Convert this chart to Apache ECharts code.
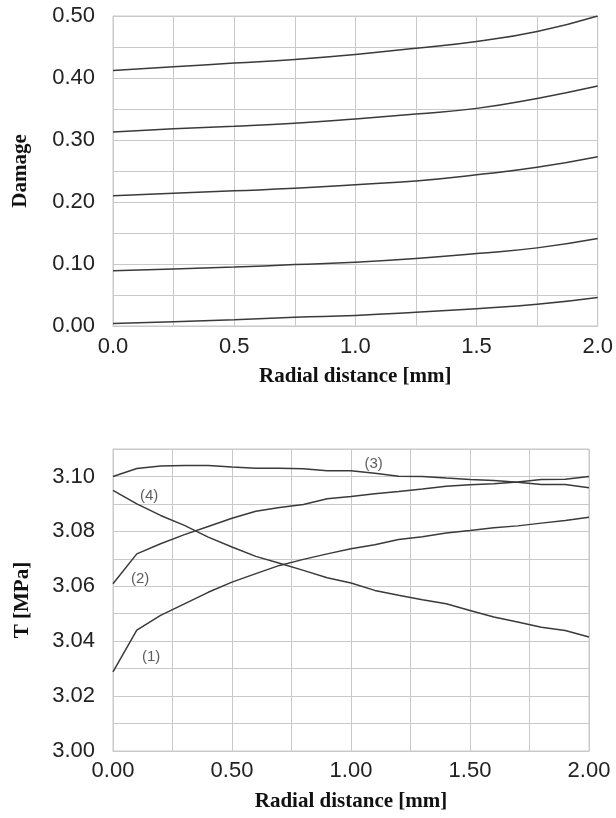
<!DOCTYPE html>
<html>
<head>
<meta charset="utf-8" />
<title>Damage and T vs radial distance</title>
<script src="https://cdn.jsdelivr.net/npm/echarts@6/dist/echarts.min.js"></script>
<style>
  html, body { margin: 0; padding: 0; background: #fff; }
  #main { width: 616px; height: 818px; }
</style>
</head>
<body>
<div id="main"></div>
<script>
// top chart: damage curves
var damageX = [0, 0.25, 0.5, 0.75, 1.0, 1.25, 1.5, 1.75, 2.0];
var damage1 = [0.412, 0.418, 0.424, 0.430, 0.438, 0.448, 0.459, 0.475, 0.500];
var damage2 = [0.313, 0.318, 0.322, 0.327, 0.334, 0.342, 0.351, 0.367, 0.387];
var damage3 = [0.210, 0.214, 0.218, 0.222, 0.228, 0.234, 0.244, 0.256, 0.273];
var damage4 = [0.089, 0.092, 0.095, 0.099, 0.103, 0.109, 0.117, 0.126, 0.141];
var damage5 = [0.004, 0.007, 0.010, 0.014, 0.017, 0.022, 0.028, 0.035, 0.046];

// bottom chart: T curves (1)..(4)
var tX = [0, 0.1, 0.2, 0.3, 0.4, 0.5, 0.6, 0.7, 0.8, 0.9, 1.0, 1.1, 1.2, 1.3, 1.4, 1.5, 1.6, 1.7, 1.8, 1.9, 2.0];
var t1 = [3.0288, 3.0440, 3.0494, 3.0536, 3.0578, 3.0615, 3.0646, 3.0676, 3.0698, 3.0718, 3.0737,
          3.0751, 3.0770, 3.0780, 3.0794, 3.0803, 3.0813, 3.0820, 3.0830, 3.0840, 3.0851];
var t2 = [3.0609, 3.0718, 3.0755, 3.0788, 3.0818, 3.0848, 3.0873, 3.0887, 3.0898, 3.0919, 3.0927,
          3.0937, 3.0945, 3.0954, 3.0964, 3.0970, 3.0973, 3.0980, 3.0989, 3.0990, 3.1000];
var t3 = [3.1000, 3.1029, 3.1038, 3.1040, 3.1040, 3.1034, 3.1030, 3.1030, 3.1028, 3.1021, 3.1021,
          3.1012, 3.1001, 3.1000, 3.0994, 3.0989, 3.0985, 3.0979, 3.0971, 3.0971, 3.0959];
var t4 = [3.0949, 3.0900, 3.0858, 3.0822, 3.0779, 3.0743, 3.0709, 3.0684, 3.0658, 3.0631, 3.0612,
          3.0585, 3.0567, 3.0551, 3.0536, 3.0512, 3.0488, 3.0470, 3.0451, 3.0439, 3.0415];
var curveNames = ['(1)', '(2)', '(3)', '(4)'];
var noteX = [0.16, 0.114, 1.095, 0.152];
var noteY = [3.0342, 3.0627, 3.1046, 3.0931];

function pairs(xs, ys) {
  var out = [];
  for (var i = 0; i < xs.length; i++) out.push([xs[i], ys[i]]);
  return out;
}

var gridColor = '#c9c9c9';
var inkColor = '#3a3a3a';
var tickFont = { fontFamily: 'Liberation Sans', fontSize: 22, color: '#222' };
var nameFont = { fontFamily: 'Liberation Serif', fontWeight: 'bold', fontSize: 21, color: '#111' };

function valueAxis(opts) {
  return Object.assign({
    type: 'value',
    nameLocation: 'middle',
    nameTextStyle: nameFont,
    axisLine: { show: true, lineStyle: { color: gridColor, width: 1 } },
    axisTick: { show: false },
    splitLine: { show: true, lineStyle: { color: gridColor, width: 1 } },
    minorTick: { show: false, splitNumber: 2 },
    minorSplitLine: { show: true, lineStyle: { color: gridColor, width: 1 } }
  }, opts);
}

var lineStyle = { color: inkColor, width: 1.5 };
var series = [];
[damage1, damage2, damage3, damage4, damage5].forEach(function (d) {
  series.push({
    type: 'line', xAxisIndex: 0, yAxisIndex: 0,
    data: pairs(damageX, d), smooth: true, showSymbol: false,
    lineStyle: lineStyle
  });
});
[t1, t2, t3, t4].forEach(function (d) {
  series.push({
    type: 'line', xAxisIndex: 1, yAxisIndex: 1,
    data: pairs(tX, d), showSymbol: false,
    lineStyle: lineStyle
  });
});
var notes = [];
for (var i = 0; i < curveNames.length; i++) notes.push([noteX[i], noteY[i], curveNames[i]]);
series.push({
  type: 'scatter', xAxisIndex: 1, yAxisIndex: 1,
  data: notes, symbolSize: 0,
  label: {
    show: true, position: 'inside',
    formatter: function (p) { return p.value[2]; },
    fontFamily: 'Liberation Sans', fontSize: 15, color: '#333'
  }
});

var chart = echarts.init(document.getElementById('main'), null, { renderer: 'canvas' });
chart.setOption({
  animation: false,
  backgroundColor: '#fff',
  grid: [
    { left: 113, top: 16, width: 486, height: 310, show: true, borderColor: gridColor, borderWidth: 1 },
    { left: 113, top: 449, width: 476, height: 302, show: true, borderColor: gridColor, borderWidth: 1 }
  ],
  xAxis: [
    valueAxis({
      gridIndex: 0, min: 0, max: 2, interval: 0.5,
      name: 'Radial distance [mm]', nameGap: 40,
      axisLabel: Object.assign({ margin: 10, formatter: function (v) { return v.toFixed(1); } }, tickFont)
    }),
    valueAxis({
      gridIndex: 1, min: 0, max: 2, interval: 0.5,
      name: 'Radial distance [mm]', nameGap: 40,
      axisLabel: Object.assign({ margin: 9, formatter: function (v) { return v.toFixed(2); } }, tickFont)
    })
  ],
  yAxis: [
    valueAxis({
      gridIndex: 0, min: 0, max: 0.5, interval: 0.1,
      name: 'Damage', nameGap: 82,
      axisLabel: Object.assign({ margin: 18, formatter: function (v) { return v.toFixed(2); } }, tickFont)
    }),
    valueAxis({
      gridIndex: 1, min: 3.0, max: 3.11, interval: 0.02,
      name: 'T [MPa]', nameGap: 80,
      axisLabel: Object.assign({ margin: 18, showMaxLabel: false, formatter: function (v) { return v.toFixed(2); } }, tickFont)
    })
  ],
  series: series
});
</script>
</body>
</html>
